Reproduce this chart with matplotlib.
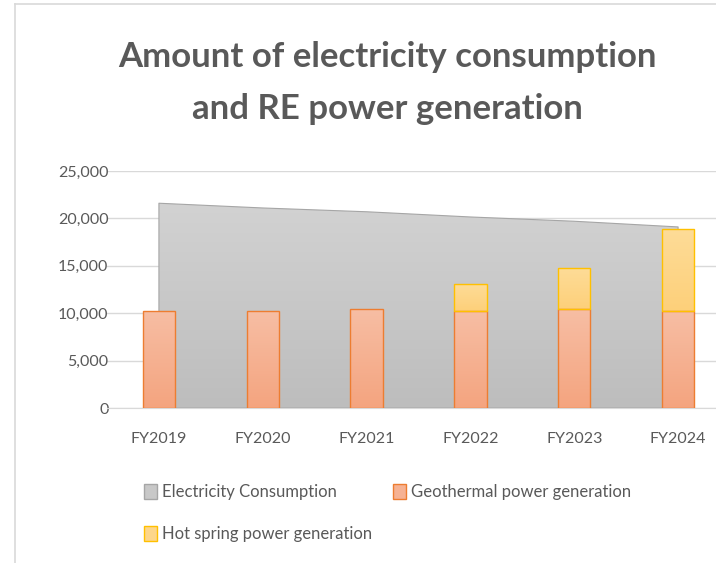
import numpy as np
import matplotlib
matplotlib.use("Agg")
import matplotlib.pyplot as plt
from matplotlib.patches import Patch
from matplotlib.lines import Line2D
from matplotlib.ticker import FuncFormatter
from matplotlib.colors import LinearSegmentedColormap

categories = ["FY2019", "FY2020", "FY2021", "FY2022", "FY2023", "FY2024"]
electricity = [21600, 21100, 20700, 20150, 19700, 19100]
geothermal = [10250, 10200, 10450, 10200, 10400, 10200]
hot_spring = [0, 0, 0, 2900, 4350, 8700]
series_names = ["Electricity Consumption", "Geothermal power generation", "Hot spring power generation"]
title = "Amount of electricity consumption\nand RE power generation"

plt.rcParams['font.family'] = ['Lato', 'DejaVu Sans']
TXT = "#595959"

fig = plt.figure(figsize=(7.16, 5.63), dpi=100)
ax = fig.add_axes([107/716, 1-408/563, 623/716, (408-171)/563])
x = np.arange(len(categories))

def grad_fill(clip, c_top, c_bot, extent, z, transform=None):
    grad = np.linspace(0, 1, 256).reshape(-1, 1)
    cmap = LinearSegmentedColormap.from_list("g", [c_top, c_bot])
    im = ax.imshow(grad, cmap=cmap, aspect="auto", extent=extent, origin="upper", zorder=z)
    if transform is None:
        im.set_clip_path(clip)
    else:
        im.set_clip_path(clip, transform)

# area
area = ax.fill_between(x, electricity, 0, facecolor="none", edgecolor="#a6a6a6", linewidth=0.8, zorder=1.1)
grad_fill(area.get_paths()[0], "#d2d2d2", "#bdbdbd", [x[0], x[-1], 0, max(electricity)], 1.0, ax.transData)

bw = 0.31
b1 = ax.bar(x, geothermal, bw, facecolor="none", edgecolor="#ed7d31", linewidth=1.0, zorder=3)
for r in b1:
    grad_fill(r, "#f7bea4", "#f4a47f", [r.get_x(), r.get_x() + r.get_width(), 0, r.get_height()], 2.9)
b2 = ax.bar(x, hot_spring, bw, bottom=geothermal, facecolor="none", edgecolor="#ffc000", linewidth=1.0, zorder=3)
for r, h in zip(b2, hot_spring):
    if h > 0:
        grad_fill(r, "#fedc98", "#fdd07a", [r.get_x(), r.get_x() + r.get_width(), r.get_y(), r.get_y() + h], 2.9)
    else:
        r.set_visible(False)

ax.set_xlim(-0.5, 5.5)
ax.set_ylim(0, 25000)
ax.set_yticks(np.arange(0, 25001, 5000))
ax.yaxis.set_major_formatter(FuncFormatter(lambda v, p: f"{int(v):,}"))
ax.set_xticks(x)
ax.set_xticklabels(categories)
ax.grid(axis="y", color="#d9d9d9", linewidth=1.0, zorder=0)
ax.set_axisbelow(True)
for s in ["top", "right", "left"]:
    ax.spines[s].set_visible(False)
ax.spines["bottom"].set_color("#d9d9d9")
ax.tick_params(axis="both", length=0, labelsize=11.5, labelcolor=TXT)
ax.tick_params(axis="y", pad=-1)
ax.tick_params(axis="x", pad=17)
ax.patch.set_alpha(0)

fig.text(387/716, 1-83/563, title, ha="center", va="center", fontsize=25, fontweight="bold",
         color=TXT, linespacing=1.75)

handles = [Patch(facecolor="#c8c8c8", edgecolor="#a6a6a6"),
           Patch(facecolor="#fdd68a", edgecolor="#ffc000"),
           Patch(facecolor="#f6b293", edgecolor="#ed7d31")]
labels = [series_names[0], series_names[2], series_names[1]]
fig.legend(handles, labels, ncol=2, loc="upper left", bbox_to_anchor=(129/716, 1-469/563),
           frameon=False, fontsize=12, labelcolor=TXT, handlelength=0.75, handleheight=1.0,
           handletextpad=0.3, columnspacing=1.3, labelspacing=1.55)

fig.add_artist(Line2D([15/716, 15/716], [0, 1-4/563], color="#d9d9d9", linewidth=1.2))
fig.add_artist(Line2D([15/716, 1], [1-4/563, 1-4/563], color="#d9d9d9", linewidth=1.2))

fig.savefig("out.png", dpi=100)
